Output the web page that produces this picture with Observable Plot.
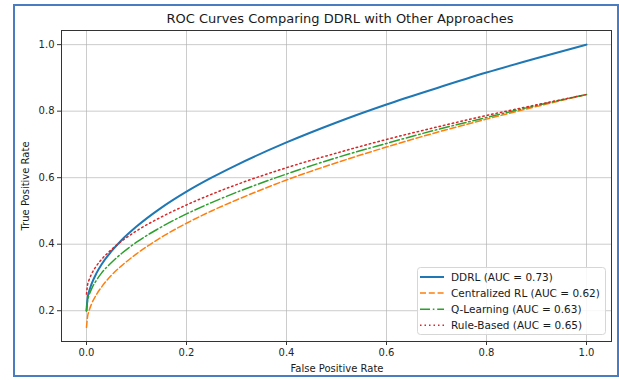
<!DOCTYPE html>
<html>
<head>
<meta charset="utf-8">
<script src="https://cdn.jsdelivr.net/npm/d3@7"></script>
<script src="https://cdn.jsdelivr.net/npm/@observablehq/plot@0.6"></script>
<style>
html, body { margin: 0; padding: 0; background: #fff; }
#wrap { position: relative; width: 619px; height: 380px; overflow: hidden; }
#wrap svg { position: absolute; left: 0; top: 0; }
#border { position: absolute; left: 13px; top: 4px; width: 606px; height: 373px; border: 2px solid #4a7dc0; box-sizing: border-box; pointer-events: none; }
</style>
</head>
<body>
<div id="wrap"><div id="border"></div></div>
<script>
// False positive rate sample points (x)
const fpr = [0, 0.002, 0.005, 0.01, 0.02, 0.03, 0.05, 0.07, 0.1, 0.15, 0.2, 0.25, 0.3, 0.4, 0.5, 0.6, 0.7, 0.8, 0.9, 1.0];
// True positive rate
const ddrl        = [0.200, 0.236, 0.257, 0.280, 0.313, 0.339, 0.379, 0.412, 0.453, 0.510, 0.558, 0.600, 0.638, 0.706, 0.766, 0.820, 0.869, 0.916, 0.959, 1.000];
const centralized = [0.150, 0.181, 0.199, 0.220, 0.249, 0.271, 0.307, 0.335, 0.371, 0.421, 0.463, 0.500, 0.533, 0.593, 0.645, 0.692, 0.736, 0.776, 0.814, 0.850];
const qlearning   = [0.200, 0.229, 0.246, 0.265, 0.292, 0.313, 0.345, 0.372, 0.406, 0.452, 0.491, 0.525, 0.556, 0.611, 0.660, 0.703, 0.744, 0.781, 0.817, 0.850];
const rulebased   = [0.250, 0.277, 0.292, 0.310, 0.335, 0.354, 0.384, 0.409, 0.440, 0.482, 0.518, 0.550, 0.579, 0.630, 0.674, 0.715, 0.752, 0.787, 0.819, 0.850];

const seriesNames = ["DDRL (AUC = 0.73)", "Centralized RL (AUC = 0.62)", "Q-Learning (AUC = 0.63)", "Rule-Based (AUC = 0.65)"];
const seriesValues = [ddrl, centralized, qlearning, rulebased];
const seriesColors = ["#1f77b4", "#ff7f0e", "#2ca02c", "#d62728"];
const seriesWidths = [2, 1.5, 1.5, 1.5];
const seriesDashes = [null, "6,2.8", "10,2.8,1.6,2.8", "1.5,3"];

const xTicks = [0, 0.2, 0.4, 0.6, 0.8, 1.0];
const yTicks = [0.2, 0.4, 0.6, 0.8, 1.0];

const title = "ROC Curves Comparing DDRL with Other Approaches";
const xLabel = "False Positive Rate";
const yLabel = "True Positive Rate";

const fmt = d3.format(".1f");

const lineMarks = seriesValues.map((vals, i) => {
  const data = fpr.map((x, j) => ({x, y: vals[j]}));
  const opts = {x: "x", y: "y", stroke: seriesColors[i], strokeWidth: seriesWidths[i], curve: "monotone-x"};
  if (seriesDashes[i]) opts.strokeDasharray = seriesDashes[i];
  return Plot.line(data, opts);
});

const chart = Plot.plot({
  width: 619,
  height: 380,
  marginLeft: 61,
  marginRight: 8,
  marginTop: 30,
  marginBottom: 39,
  style: {fontFamily: "DejaVu Sans", fontSize: "10px", color: "#262626", background: "transparent", overflow: "visible"},
  x: {domain: [-0.05, 1.05], label: null},
  y: {domain: [0.1075, 1.0425], label: null},
  marks: [
    Plot.gridX(xTicks, {stroke: "#b0b0b0", strokeOpacity: 0.65, strokeWidth: 1}),
    Plot.gridY(yTicks, {stroke: "#b0b0b0", strokeOpacity: 0.65, strokeWidth: 1}),
    ...lineMarks,
    Plot.frame({stroke: "#333", strokeWidth: 1}),
    Plot.axisX(xTicks, {tickSize: 4, tickPadding: 3, tickFormat: fmt, label: null, stroke: "#333"}),
    Plot.axisY(yTicks, {tickSize: 4, tickPadding: 3, tickFormat: fmt, label: null, stroke: "#333"})
  ]
});

document.getElementById("wrap").prepend(chart);

const svg = d3.select(chart);
const tc = "#1a1a1a";
svg.append("text").attr("x", 340).attr("y", 23).attr("text-anchor", "middle")
  .attr("font-size", "13px").attr("fill", tc).text(title);
svg.append("text").attr("x", 337).attr("y", 372).attr("text-anchor", "middle")
  .attr("font-size", "10px").attr("fill", tc).text(xLabel);
svg.append("text").attr("transform", "translate(25,186) rotate(-90)").attr("text-anchor", "middle")
  .attr("dy", "0.35em").attr("font-size", "10px").attr("fill", tc).text(yLabel);

// Legend
const lg = svg.append("g").attr("text-anchor", "start");
lg.append("rect").attr("x", 417.5).attr("y", 267.5).attr("width", 188).attr("height", 67).attr("rx", 3)
  .attr("fill", "#fff").attr("fill-opacity", 0.85).attr("stroke", "#d6d6d6");
seriesNames.forEach((name, i) => {
  const cy = 277 + i * 16.1;
  const ln = lg.append("line").attr("x1", 420).attr("x2", 444).attr("y1", cy).attr("y2", cy)
    .attr("stroke", seriesColors[i]).attr("stroke-width", seriesWidths[i]);
  if (seriesDashes[i]) ln.attr("stroke-dasharray", seriesDashes[i]);
  lg.append("text").attr("x", 451).attr("y", cy).attr("dy", "0.35em").attr("font-size", "10.5px")
    .attr("text-anchor", "start").attr("fill", tc).text(name);
});
</script>
</body>
</html>
